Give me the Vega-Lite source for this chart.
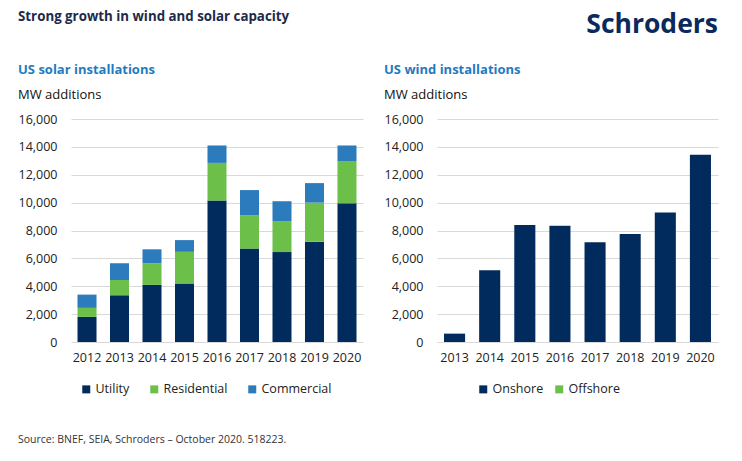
{
  "$schema": "https://vega.github.io/schema/vega-lite/v6.json",
  "padding": {"left": 18, "top": 10, "right": 20, "bottom": 10},
  "background": "white",
  "config": {
    "font": "Open Sans",
    "view": {"stroke": null},
    "axis": {"labelFont": "Open Sans", "labelFontSize": 12.5, "labelColor": "#222222", "domain": false, "ticks": false, "gridColor": "#d9d9d9", "gridWidth": 1},
    "legend": {"labelFont": "Open Sans", "labelFontSize": 12.5, "labelColor": "#222222", "symbolType": "square", "symbolSize": 64, "symbolStrokeWidth": 0, "columnPadding": 21, "labelOffset": 3},
    "concat": {"spacing": 21}
  },
  "title": {"text": "Source: BNEF, SEIA, Schroders – October 2020. 518223.", "orient": "bottom", "anchor": "start", "font": "Open Sans", "fontSize": 10.5, "fontWeight": "normal", "color": "#333333", "offset": 39},
  "vconcat": [
    {
      "title": {"text": "Strong growth in wind and solar capacity", "anchor": "start", "font": "Open Sans", "fontSize": 13.3, "fontWeight": "bold", "color": "#1c2b4b", "offset": -12},
      "vconcat": [
        {
          "title": {"text": "Schroders", "anchor": "end", "font": "Open Sans", "fontSize": 26.5, "fontWeight": "bold", "color": "#0b2a5c", "offset": 26},
          "resolve": {"scale": {"color": "independent"}, "legend": {"color": "independent"}},
          "hconcat": [
            {
              "width": 292,
              "height": 223,
              "title": {"text": "US solar installations", "subtitle": "MW additions", "anchor": "start", "frame": "bounds", "font": "Open Sans", "fontSize": 13, "fontWeight": "bold", "color": "#1f7bc1", "subtitleFont": "Open Sans", "subtitleFontSize": 13, "subtitleColor": "#111111", "subtitlePadding": 12, "offset": 11},
              "data": {"values": [
                {"year": "2012", "type": "Utility", "mw": 1800},
                {"year": "2012", "type": "Residential", "mw": 650},
                {"year": "2012", "type": "Commercial", "mw": 950},
                {"year": "2013", "type": "Utility", "mw": 3350},
                {"year": "2013", "type": "Residential", "mw": 1100},
                {"year": "2013", "type": "Commercial", "mw": 1200},
                {"year": "2014", "type": "Utility", "mw": 4100},
                {"year": "2014", "type": "Residential", "mw": 1550},
                {"year": "2014", "type": "Commercial", "mw": 1000},
                {"year": "2015", "type": "Utility", "mw": 4200},
                {"year": "2015", "type": "Residential", "mw": 2270},
                {"year": "2015", "type": "Commercial", "mw": 840},
                {"year": "2016", "type": "Utility", "mw": 10150},
                {"year": "2016", "type": "Residential", "mw": 2700},
                {"year": "2016", "type": "Commercial", "mw": 1250},
                {"year": "2017", "type": "Utility", "mw": 6700},
                {"year": "2017", "type": "Residential", "mw": 2400},
                {"year": "2017", "type": "Commercial", "mw": 1800},
                {"year": "2018", "type": "Utility", "mw": 6450},
                {"year": "2018", "type": "Residential", "mw": 2200},
                {"year": "2018", "type": "Commercial", "mw": 1450},
                {"year": "2019", "type": "Utility", "mw": 7200},
                {"year": "2019", "type": "Residential", "mw": 2800},
                {"year": "2019", "type": "Commercial", "mw": 1400},
                {"year": "2020", "type": "Utility", "mw": 9950},
                {"year": "2020", "type": "Residential", "mw": 3000},
                {"year": "2020", "type": "Commercial", "mw": 1150}
              ]},
              "mark": {"type": "bar"},
              "encoding": {
                "x": {"field": "year", "type": "ordinal", "scale": {"paddingInner": 0.415, "paddingOuter": 0.2}, "axis": {"title": null, "labelAngle": 0, "labelPadding": 9}},
                "y": {"field": "mw", "type": "quantitative", "stack": "zero", "scale": {"domain": [0, 16000]}, "axis": {"title": null, "values": [0, 2000, 4000, 6000, 8000, 10000, 12000, 14000, 16000], "format": ",d", "labelPadding": 14}},
                "color": {"field": "type", "type": "nominal", "sort": ["Utility", "Residential", "Commercial"], "scale": {"domain": ["Utility", "Residential", "Commercial"], "range": ["#002b5c", "#6cc04a", "#2b7bbd"]}, "legend": {"orient": "none", "direction": "horizontal", "title": null, "legendX": 9, "legendY": 264, "columnPadding": 18}}
              }
            },
            {
              "width": 281,
              "height": 223,
              "title": {"text": "US wind installations", "subtitle": "MW additions", "anchor": "start", "frame": "bounds", "font": "Open Sans", "fontSize": 13, "fontWeight": "bold", "color": "#1f7bc1", "subtitleFont": "Open Sans", "subtitleFontSize": 13, "subtitleColor": "#111111", "subtitlePadding": 12, "offset": 11},
              "data": {"values": [
                {"year": "2013", "type": "Onshore", "mw": 600},
                {"year": "2014", "type": "Onshore", "mw": 5150},
                {"year": "2015", "type": "Onshore", "mw": 8400},
                {"year": "2016", "type": "Onshore", "mw": 8320},
                {"year": "2016", "type": "Offshore", "mw": 30},
                {"year": "2017", "type": "Onshore", "mw": 7150},
                {"year": "2018", "type": "Onshore", "mw": 7750},
                {"year": "2019", "type": "Onshore", "mw": 9300},
                {"year": "2020", "type": "Onshore", "mw": 13430}
              ]},
              "mark": {"type": "bar"},
              "encoding": {
                "x": {"field": "year", "type": "ordinal", "scale": {"paddingInner": 0.4, "paddingOuter": 0.2}, "axis": {"title": null, "labelAngle": 0, "labelPadding": 9}},
                "y": {"field": "mw", "type": "quantitative", "stack": "zero", "scale": {"domain": [0, 16000]}, "axis": {"title": null, "values": [0, 2000, 4000, 6000, 8000, 10000, 12000, 14000, 16000], "format": ",d", "labelPadding": 14}},
                "color": {"field": "type", "type": "nominal", "sort": ["Onshore", "Offshore"], "scale": {"domain": ["Onshore", "Offshore"], "range": ["#002b5c", "#6cc04a"]}, "legend": {"orient": "none", "direction": "horizontal", "title": null, "legendX": 40, "legendY": 264, "columnPadding": 9}}
              }
            }
          ]
        }
      ]
    }
  ]
}
